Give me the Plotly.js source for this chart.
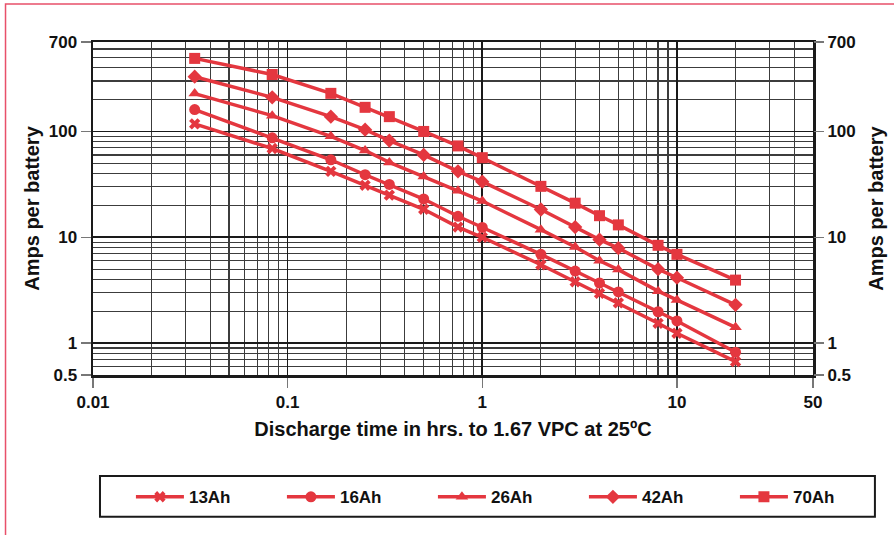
<!DOCTYPE html>
<html>
<head>
<meta charset="utf-8">
<script src="https://cdn.plot.ly/plotly-3.0.1.min.js"></script>
<style>html,body{margin:0;padding:0;background:#fff;}#chart{width:894px;height:535px;}</style>
</head>
<body>
<div id="chart"></div>
<script>
// Discharge time in hours
var hours = [0.0333, 0.0833, 0.1667, 0.25, 0.333, 0.5, 0.75, 1, 2, 3, 4, 5, 8, 10, 20];
// Amps per battery for each model
var amps13 = [118, 69, 42, 31, 25, 18.4, 12.5, 10, 5.5, 3.8, 2.95, 2.4, 1.54, 1.24, 0.67];
var amps16 = [161, 87, 54, 39, 31.6, 23, 15.8, 12.4, 6.9, 4.8, 3.7, 3.05, 1.98, 1.62, 0.82];
var amps26 = [228, 141, 90, 66, 51, 37.6, 27.6, 22, 11.8, 8.1, 6.0, 4.95, 3.1, 2.56, 1.41];
var amps42 = [329, 210, 138, 104, 82, 60, 42, 33.5, 18.3, 12.5, 9.5, 7.9, 5.0, 4.15, 2.3];
var amps70 = [490, 345, 229, 169, 138, 100, 73, 56.5, 30.3, 21, 16, 13.1, 8.4, 6.9, 3.94];
var seriesNames = ['13Ah', '16Ah', '26Ah', '42Ah', '70Ah'];
var seriesSymbols = ['x', 'circle', 'triangle-up', 'diamond', 'square'];

// Axis ticks
var xTickVals = [0.01, 0.1, 1, 10, 50];
var xTickText = ['0.01', '0.1', '1', '10', '50'];
var xGridVals = [0.02,0.03,0.04,0.05,0.06,0.07,0.08,0.09,0.2,0.3,0.4,0.5,0.6,0.7,0.8,0.9,2,3,4,5,6,7,8,9,20,30,40];
var yTickVals = [0.5, 1, 10, 100, 700];
var yTickText = ['0.5', '1', '10', '100', '700'];
var yGridVals = [0.6,0.7,0.8,0.9,2,3,4,5,6,7,8,9,20,30,40,50,60,70,80,90,200,300,400,500,600];

var RED = '#e4373f';
var FONT = '"Liberation Sans", Arial, Helvetica, sans-serif';
var allAmps = [amps13, amps16, amps26, amps42, amps70];

var traces = allAmps.map(function (ys, i) {
  var t = {
    x: hours, y: ys, name: seriesNames[i], type: 'scatter', mode: 'lines+markers',
    line: {color: RED, width: 3.5},
    marker: {symbol: seriesSymbols[i], color: RED, size: seriesSymbols[i] === 'x' ? 10 : 11,
             line: {width: 0}}
  };
  if (i === allAmps.length - 1) t.legendwidth = 60;
  return t;
});
// invisible companion trace so that the right-hand axis is drawn
traces.push({
  x: hours, y: amps70, yaxis: 'y2', type: 'scatter', mode: 'markers',
  marker: {opacity: 0, size: 1}, showlegend: false, hoverinfo: 'skip'
});

var tickFont = {family: FONT, size: 17, color: '#111', weight: 'bold'};
var titleFont = {family: FONT, size: 20, color: '#111', weight: 'bold'};

var yCommon = {
  type: 'log', range: [Math.log10(0.5), Math.log10(700)],
  tickmode: 'array', tickvals: yTickVals, ticktext: yTickText,
  ticks: 'outside', ticklen: 10, tickwidth: 1.5, tickcolor: '#777',
  tickfont: tickFont, fixedrange: true, zeroline: false, automargin: false
};

var layout = {
  width: 894, height: 535,
  margin: {l: 93, r: 81, t: 42, b: 160},
  paper_bgcolor: '#fff', plot_bgcolor: '#fff',
  font: {family: FONT, color: '#111', weight: 'bold'},
  showlegend: true,
  xaxis: {
    type: 'log', range: [Math.log10(0.01), Math.log10(50)],
    tickmode: 'array', tickvals: xTickVals, ticktext: xTickText,
    ticks: 'outside', ticklen: 10, tickwidth: 1.5, tickcolor: '#777',
    tickfont: tickFont, automargin: false,
    showgrid: true, gridcolor: '#1a1a1a', gridwidth: 1.6,
    minor: {tickmode: 'array', tickvals: xGridVals, showgrid: true, gridcolor: '#3c3c3c', gridwidth: 1.2, ticks: ''},
    showline: true, linecolor: '#1a1a1a', linewidth: 2.5, mirror: true,
    zeroline: false,
    title: {text: 'Discharge time in hrs. to 1.67 VPC at 25ºC', font: titleFont, standoff: 11}
  },
  yaxis: Object.assign({}, yCommon, {
    showgrid: true, gridcolor: '#1a1a1a', gridwidth: 1.6,
    minor: {tickmode: 'array', tickvals: yGridVals, showgrid: true, gridcolor: '#3c3c3c', gridwidth: 1.2, ticks: ''},
    showline: true, linecolor: '#1a1a1a', linewidth: 2.5, mirror: true,
    title: {text: 'Amps per battery', font: titleFont, standoff: 4}
  }),
  yaxis2: Object.assign({}, yCommon, {
    overlaying: 'y', side: 'right', anchor: 'x',
    showgrid: false, showline: false,
    title: {text: 'Amps per battery', font: titleFont, standoff: 14}
  }),
  legend: {
    orientation: 'h', x: 1.0624, xanchor: 'right', y: -0.313, yanchor: 'top',
    bgcolor: 'rgba(0,0,0,0)', borderwidth: 0,
    font: {family: FONT, size: 17, color: '#111', weight: 'bold'},
    itemwidth: 48, entrywidth: 88, entrywidthmode: 'pixels',
    traceorder: 'normal', itemclick: false, itemdoubleclick: false
  },
  shapes: [
    {type: 'rect', xref: 'paper', yref: 'paper', x0: 0.0097, x1: 1.086, y0: -0.303, y1: -0.426,
     line: {color: '#1a1a1a', width: 2}, fillcolor: 'rgba(0,0,0,0)', layer: 'below'},
    {type: 'rect', xref: 'paper', yref: 'paper', x0: -0.1215, x1: 1.3, y0: -0.8, y1: 1.114,
     line: {color: '#e8506a', width: 1.5}, fillcolor: 'rgba(0,0,0,0)', layer: 'below'}
  ]
};

Plotly.newPlot('chart', traces, layout, {displayModeBar: false, staticPlot: true});
</script>
</body>
</html>
